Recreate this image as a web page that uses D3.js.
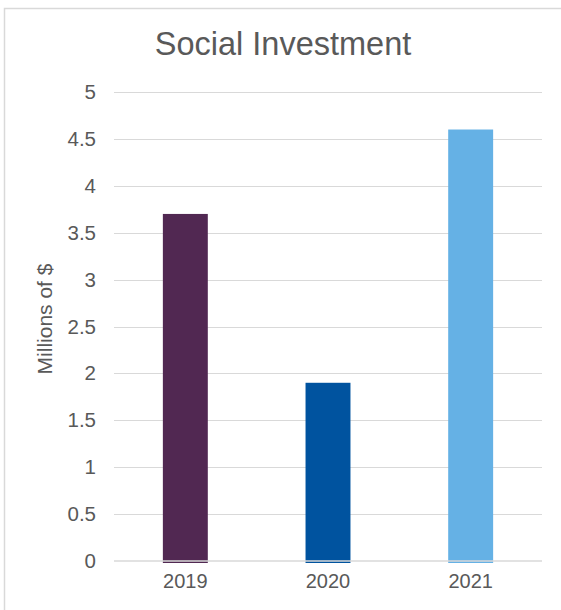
<!DOCTYPE html>
<html>
<head>
<meta charset="utf-8">
<script src="https://cdn.jsdelivr.net/npm/d3@7"></script>
<style>
  body { margin: 0; background: #ffffff; }
  text { font-family: "Liberation Sans", Arial, sans-serif; fill: #595959; }
</style>
</head>
<body>
<svg></svg>
<script>
// Chart data
const years = ["2019", "2020", "2021"];
const investment = [3.7, 1.9, 4.6];
const yTicks = [0, 0.5, 1, 1.5, 2, 2.5, 3, 3.5, 4, 4.5, 5];
const barColors = ["#512852", "#00539f", "#65b1e5"];

const svgWidth = 561, svgHeight = 610;
const margin = { top: 92, right: 19, bottom: 49, left: 114 };
const chartWidth = svgWidth - margin.left - margin.right;
const chartHeight = svgHeight - margin.top - margin.bottom;

const svg = d3.select("svg")
    .attr("width", svgWidth)
    .attr("height", svgHeight);

// Outer chart border (cropped on right and bottom)
svg.append("rect")
    .attr("x", 4.5)
    .attr("y", 8.5)
    .attr("width", 600)
    .attr("height", 700)
    .attr("fill", "none")
    .attr("stroke", "#d9d9d9")
    .attr("stroke-width", 1.5);

const chart = svg.append("g")
    .attr("transform", `translate(${margin.left},${margin.top})`);

const xScale = d3.scaleBand().domain(years).range([0, chartWidth]).paddingInner(0.685).paddingOuter(0.3425);
const yScale = d3.scaleLinear().domain([0, 5]).range([chartHeight, 0]);

// Gridlines
chart.append("g")
    .selectAll("line")
    .data(yTicks.filter(d => d > 0))
    .enter()
    .append("line")
    .attr("x1", 0)
    .attr("x2", chartWidth)
    .attr("y1", d => Math.round(yScale(d)) + 0.5)
    .attr("y2", d => Math.round(yScale(d)) + 0.5)
    .attr("stroke", "#d9d9d9")
    .attr("stroke-width", 1);

// Bars (extend slightly below the baseline like the original)
chart.selectAll(".bar")
    .data(investment)
    .enter()
    .append("rect")
    .attr("class", "bar")
    .attr("x", (d, i) => xScale(years[i]))
    .attr("width", xScale.bandwidth())
    .attr("y", d => yScale(d))
    .attr("height", d => chartHeight - yScale(d) + 2)
    .attr("fill", (d, i) => barColors[i]);

// Baseline drawn over bars
chart.append("line")
    .attr("x1", 0)
    .attr("x2", chartWidth)
    .attr("y1", yScale(0))
    .attr("y2", yScale(0))
    .attr("stroke", "#d9d9d9")
    .attr("stroke-width", 1.5);

// Y axis labels
const yAxis = chart.append("g")
    .call(d3.axisLeft(yScale).tickValues(yTicks).tickSize(0).tickPadding(18).tickFormat(d3.format("")));
yAxis.select(".domain").remove();
yAxis.selectAll("text")
    .style("font-size", "20.5px")
    .attr("fill", "#595959");

// X axis labels
const xAxis = chart.append("g")
    .attr("transform", `translate(0,${chartHeight})`)
    .call(d3.axisBottom(xScale).tickSize(0).tickPadding(13));
xAxis.select(".domain").remove();
xAxis.selectAll("text")
    .style("font-size", "20px")
    .attr("fill", "#595959");

// Title
svg.append("text")
    .attr("x", 283)
    .attr("y", 55)
    .attr("text-anchor", "middle")
    .style("font-size", "32.5px")
    .text("Social Investment");

// Y axis title
svg.append("text")
    .attr("transform", "rotate(-90)")
    .attr("x", -319)
    .attr("y", 52)
    .attr("text-anchor", "middle")
    .style("font-size", "21px")
    .text("Millions of $");
</script>
</body>
</html>
